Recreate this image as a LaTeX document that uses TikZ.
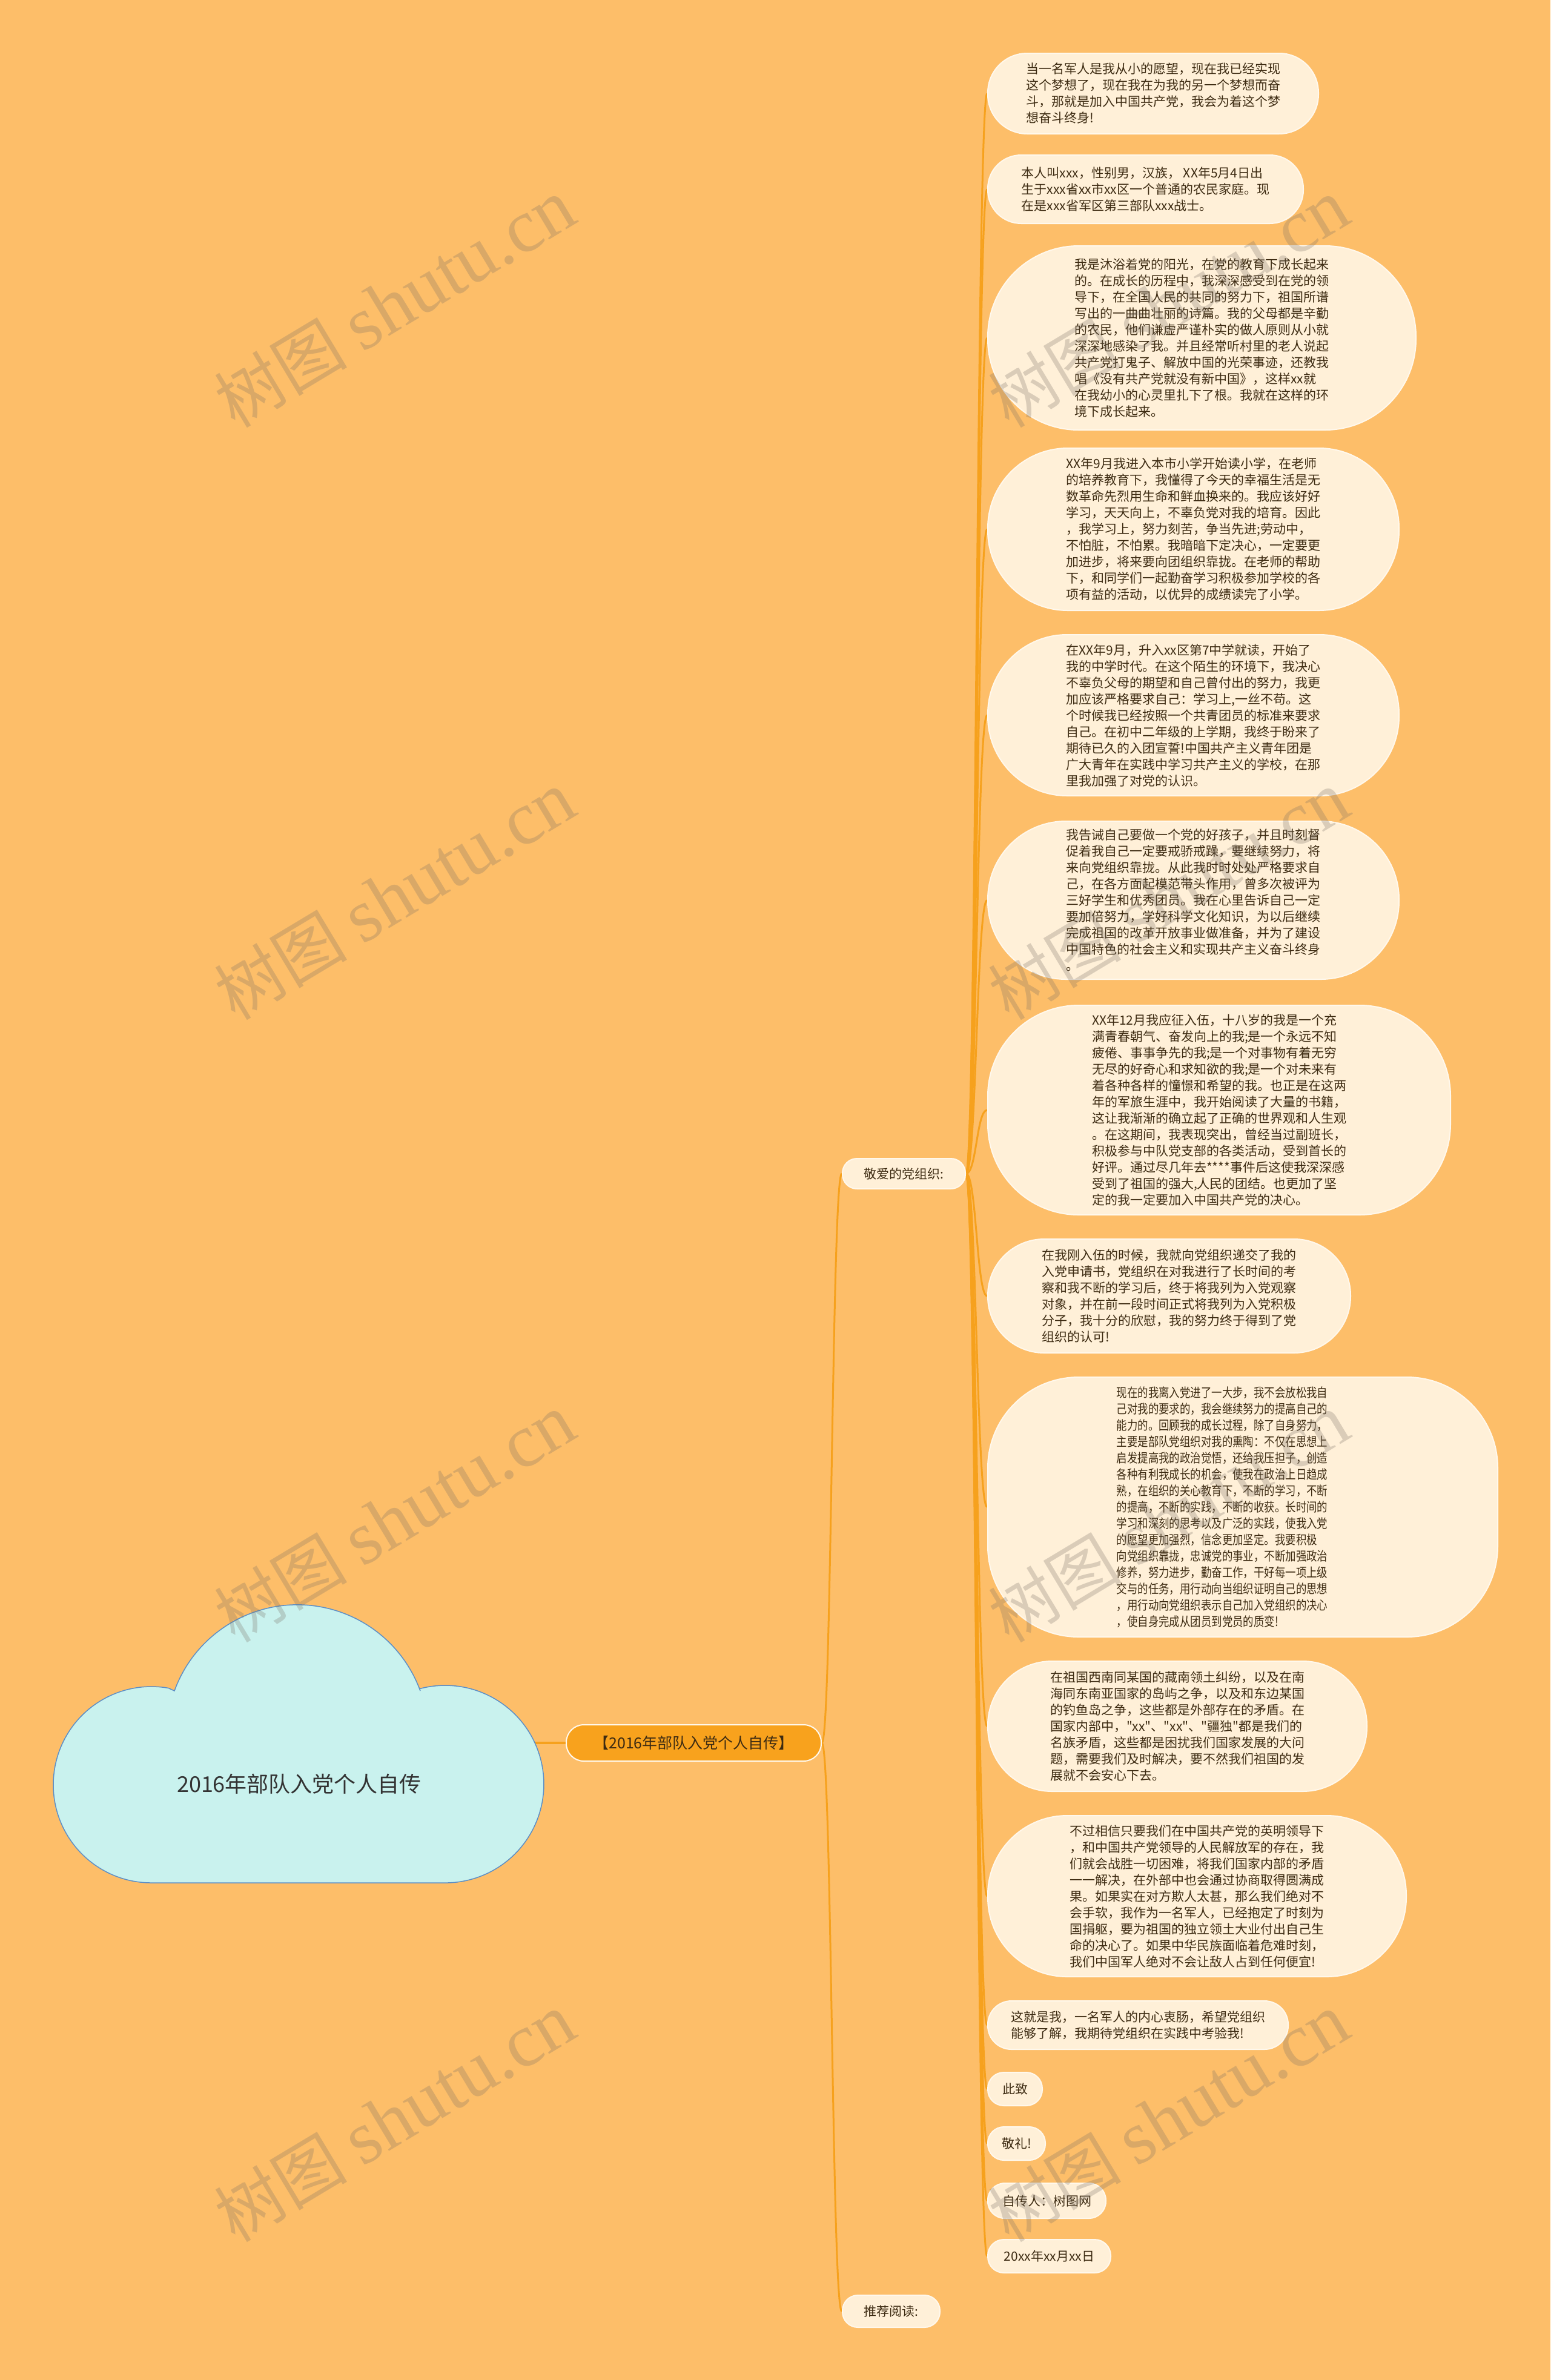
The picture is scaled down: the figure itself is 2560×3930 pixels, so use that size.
\documentclass[tikz,border=0pt]{standalone}
\usepackage{fontspec}
\defaultfontfeatures[\rmfamily,\sffamily]{}
\defaultfontfeatures{}
\setmainfont{Noto Sans CJK SC}
\newfontfamily\narrowcjk[FakeStretch=0.83]{Noto Sans CJK SC}
\newfontfamily\wmserif{Liberation Serif}
\usetikzlibrary{calc}
\pgfdeclarelayer{bgl}
\pgfdeclarelayer{lnl}
\pgfsetlayers{bgl,lnl,main}
\definecolor{bgc}{HTML}{FDBE69}
\definecolor{bubc}{HTML}{FFF0D8}
\definecolor{bubline}{HTML}{FFF8EC}
\definecolor{linec}{HTML}{F6A11D}
\definecolor{txtc}{HTML}{3D2B12}
\definecolor{cloudfill}{HTML}{C9F2EE}
\definecolor{cloudline}{HTML}{5D8FC6}
\definecolor{mainc}{HTML}{F8A21D}
\definecolor{wmc}{HTML}{786E64}
\newcommand\mmlink[2]{\draw[conn] let \p1=(#1.east), \p2=(#2.west) in (\p1) .. controls ({(\x1+\x2)/2},\y1) and ({(\x1+\x2)/2},\y2) .. (\p2);}
\tikzset{
  bubble/.style={draw=bubline, line width=2pt, fill=bubc, text=txtc, align=left, inner sep=0pt, font=\fontsize{21}{27}\selectfont, anchor=west},
  branch/.style={draw=bubline, line width=2pt, fill=bubc, text=txtc, inner sep=0pt, font=\fontsize{21}{27}\selectfont},
  mainnode/.style={draw=bubline, line width=2pt, fill=mainc, text=txtc, inner sep=0pt, font=\fontsize{25}{30}\selectfont},
  conn/.style={draw=linec, line width=3pt},
  wm/.style={text=wmc, text opacity=0.27, rotate=31, font=\fontsize{110}{120}\selectfont}
}
\begin{document}
\begin{tikzpicture}[x=1pt,y=-1pt]
\useasboundingbox (0,0) rectangle (2560,3930);
\begin{pgfonlayer}{bgl}
\fill[bgc] (0,0) rectangle (2560,3930);
\end{pgfonlayer}

% root cloud
\draw[fill=cloudfill, draw=cloudline, line width=1.5pt]
  (250,3109) arc[start angle=90, end angle=280, radius=162]
  -- (288,2792) arc[start angle=200, end angle=340, radius=216]
  -- (692.8,2788.6) arc[start angle=255, end angle=450, radius=163]
  -- cycle;
\node[text=black!80, font=\fontsize{36}{42}\selectfont] (root) at (494,2946) {2016年部队入党个人自传};
\coordinate (rootR) at (870,2878);

\node[mainnode, minimum width=421pt, minimum height=60pt, rounded corners=29pt] (center) at (1145.5,2878) {【2016年部队入党个人自传】};

\node[branch, minimum width=203pt, minimum height=50pt, rounded corners=24pt] (dear) at (1492.5,1938) {敬爱的党组织:};
\node[branch, minimum width=161pt, minimum height=53pt, rounded corners=25.5pt] (rec) at (1471.5,3816.5) {推荐阅读:};

\node[bubble, minimum width=546pt, minimum height=133pt, rounded corners=65pt] (b1) at (1630,154.5) {当一名军人是我从小的愿望，现在我已经实现\\这个梦想了，现在我在为我的另一个梦想而奋\\斗，那就是加入中国共产党，我会为着这个梦\\想奋斗终身!};

\node[bubble, minimum width=521pt, minimum height=113pt, rounded corners=55pt] (b2) at (1630,312.5) {本人叫xxx，性别男，汉族， XX年5月4日出\\生于xxx省xx市xx区一个普通的农民家庭。现\\在是xxx省军区第三部队xxx战士。};

\node[bubble, minimum width=707pt, minimum height=304pt, rounded corners=150pt] (b3) at (1630,558) {我是沐浴着党的阳光，在党的教育下成长起来\\的。在成长的历程中，我深深感受到在党的领\\导下，在全国人民的共同的努力下，祖国所谱\\写出的一曲曲壮丽的诗篇。我的父母都是辛勤\\的农民，他们谦虚严谨朴实的做人原则从小就\\深深地感染了我。并且经常听村里的老人说起\\共产党打鬼子、解放中国的光荣事迹，还教我\\唱《没有共产党就没有新中国》，这样xx就\\在我幼小的心灵里扎下了根。我就在这样的环\\境下成长起来。};

\node[bubble, minimum width=679pt, minimum height=268pt, rounded corners=132pt] (b4) at (1630,874) {XX年9月我进入本市小学开始读小学，在老师\\的培养教育下，我懂得了今天的幸福生活是无\\数革命先烈用生命和鲜血换来的。我应该好好\\学习，天天向上，不辜负党对我的培育。因此\\，我学习上，努力刻苦，争当先进;劳动中，\\不怕脏，不怕累。我暗暗下定决心，一定要更\\加进步，将来要向团组织靠拢。在老师的帮助\\下，和同学们一起勤奋学习积极参加学校的各\\项有益的活动，以优异的成绩读完了小学。};

\node[bubble, minimum width=679pt, minimum height=266pt, rounded corners=131pt] (b5) at (1630,1181) {在XX年9月，升入xx区第7中学就读，开始了\\我的中学时代。在这个陌生的环境下，我决心\\不辜负父母的期望和自己曾付出的努力，我更\\加应该严格要求自己：学习上,一丝不苟。这\\个时候我已经按照一个共青团员的标准来要求\\自己。在初中二年级的上学期，我终于盼来了\\期待已久的入团宣誓!中国共产主义青年团是\\广大青年在实践中学习共产主义的学校，在那\\里我加强了对党的认识。};

\node[bubble, minimum width=679pt, minimum height=261pt, rounded corners=129pt] (b6) at (1630,1486.5) {我告诫自己要做一个党的好孩子，并且时刻督\\促着我自己一定要戒骄戒躁，要继续努力，将\\来向党组织靠拢。从此我时时处处严格要求自\\己，在各方面起模范带头作用，曾多次被评为\\三好学生和优秀团员。我在心里告诉自己一定\\要加倍努力，学好科学文化知识，为以后继续\\完成祖国的改革开放事业做准备，并为了建设\\中国特色的社会主义和实现共产主义奋斗终身\\。};

\node[bubble, minimum width=764pt, minimum height=346pt, rounded corners=150pt] (b7) at (1630,1833) {XX年12月我应征入伍，十八岁的我是一个充\\满青春朝气、奋发向上的我;是一个永远不知\\疲倦、事事争先的我;是一个对事物有着无穷\\无尽的好奇心和求知欲的我;是一个对未来有\\着各种各样的憧憬和希望的我。也正是在这两\\年的军旅生涯中，我开始阅读了大量的书籍，\\这让我渐渐的确立起了正确的世界观和人生观\\。在这期间，我表现突出，曾经当过副班长，\\积极参与中队党支部的各类活动，受到首长的\\好评。通过尽几年去****事件后这使我深深感\\受到了祖国的强大,人民的团结。也更加了坚\\定的我一定要加入中国共产党的决心。};

\node[bubble, minimum width=599pt, minimum height=188pt, rounded corners=93pt] (b8) at (1630,2140) {在我刚入伍的时候，我就向党组织递交了我的\\入党申请书，党组织在对我进行了长时间的考\\察和我不断的学习后，终于将我列为入党观察\\对象，并在前一段时间正式将我列为入党积极\\分子，我十分的欣慰，我的努力终于得到了党\\组织的认可!};

\node[bubble, minimum width=842pt, minimum height=429pt, rounded corners=150pt, font=\narrowcjk\fontsize{21}{27}\selectfont] (b9) at (1630,2488.5) {现在的我离入党进了一大步，我不会放松我自\hspace*{68pt}\\己对我的要求的，我会继续努力的提高自己的\\能力的。回顾我的成长过程，除了自身努力，\\主要是部队党组织对我的熏陶：不仅在思想上\\启发提高我的政治觉悟，还给我压担子，创造\\各种有利我成长的机会，使我在政治上日趋成\\熟，在组织的关心教育下，不断的学习，不断\\的提高，不断的实践，不断的收获。长时间的\\学习和深刻的思考以及广泛的实践，使我入党\\的愿望更加强烈，信念更加坚定。我要积极\\向党组织靠拢，忠诚党的事业，不断加强政治\\修养，努力进步，勤奋工作，干好每一项上级\\交与的任务，用行动向当组织证明自己的思想\\，用行动向党组织表示自己加入党组织的决心\\，使自身完成从团员到党员的质变!};

\node[bubble, minimum width=626pt, minimum height=215pt, rounded corners=106pt] (b10) at (1630,2850.5) {在祖国西南同某国的藏南领土纠纷，以及在南\\海同东南亚国家的岛屿之争，以及和东边某国\\的钓鱼岛之争，这些都是外部存在的矛盾。在\\国家内部中，"xx"、"xx"、"疆独"都是我们的\\名族矛盾，这些都是困扰我们国家发展的大问\\题，需要我们及时解决，要不然我们祖国的发\\展就不会安心下去。};

\node[bubble, minimum width=691pt, minimum height=266pt, rounded corners=131pt] (b11) at (1630,3131) {不过相信只要我们在中国共产党的英明领导下\\，和中国共产党领导的人民解放军的存在，我\\们就会战胜一切困难，将我们国家内部的矛盾\\一一解决，在外部中也会通过协商取得圆满成\\果。如果实在对方欺人太甚，那么我们绝对不\\会手软，我作为一名军人，已经抱定了时刻为\\国捐躯，要为祖国的独立领土大业付出自己生\\命的决心了。如果中华民族面临着危难时刻，\\我们中国军人绝对不会让敌人占到任何便宜!};

\node[bubble, minimum width=496pt, minimum height=80pt, rounded corners=39pt] (b12) at (1630,3344) {这就是我，一名军人的内心衷肠，希望党组织\\能够了解，我期待党组织在实践中考验我!};

\node[bubble, minimum width=90pt, minimum height=55pt, rounded corners=26.5pt] (b13) at (1630,3449.5) {此致};
\node[bubble, minimum width=95pt, minimum height=55pt, rounded corners=26.5pt] (b14) at (1630,3539.5) {敬礼!};
\node[bubble, minimum width=195pt, minimum height=58pt, rounded corners=28pt] (b15) at (1630,3634) {自传人：树图网};
\node[bubble, minimum width=203pt, minimum height=55pt, rounded corners=26.5pt] (b16) at (1630,3725.5) {20xx年xx月xx日};

\begin{pgfonlayer}{lnl}
\draw[conn, line width=3.5pt] (rootR) -- (center.west);
\mmlink{center}{dear}
\mmlink{center}{rec}
\foreach \b in {b1,b2,b3,b4,b5,b6,b7,b8,b9,b10,b11,b12,b13,b14,b15,b16}{\mmlink{dear}{\b}}
\end{pgfonlayer}

% watermarks
\foreach \wx/\wy/\k in {652/501/1,1930/501/2,652/1479/3,1930/1479/4,652/2507/5,1930/2507/6,652/3497/7,1930/3497/8}{
  \node[wm] (wm\k) at (\wx,\wy) {树图 {\wmserif\fontsize{125}{130}\selectfont shutu.cn}};
}
\end{tikzpicture}
\end{document}
